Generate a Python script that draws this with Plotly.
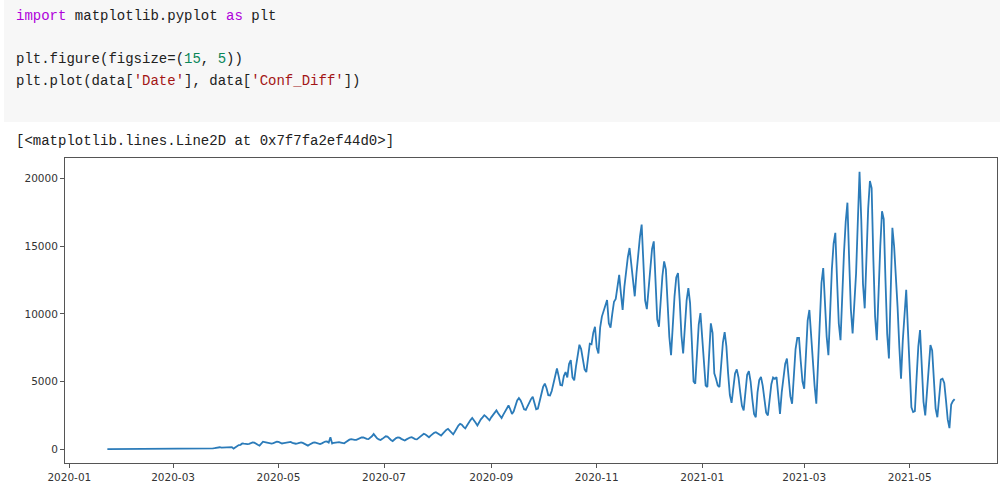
import pandas as pd
import plotly.graph_objects as go

# Daily change in confirmed cases, one list per calendar month
conf_diff_2020_01 = [0, 0, 0, 0, 0, 0, 0, 0, 0]
conf_diff_2020_02 = [0] * 29
conf_diff_2020_03 = [0, 0, 1, 0, 0, 0, 0, 0, 0, 0, 0, 0, 2, 0, 0,
                     4, 7, 2, 12, 15, 12, 11, 40, 55, 70, 95, 110, 140, 110, 120, 135]
conf_diff_2020_04 = [150, 170, 160, 150, 40, 150, 260, 300, 320, 420, 400, 360,
                     370, 390, 440, 500, 480, 430, 330, 260, 400, 550, 520, 480,
                     450, 420, 410, 450, 500, 550]
conf_diff_2020_05 = [530, 480, 420, 440, 470, 520, 550, 530, 470, 420, 400, 420,
                     480, 500, 460, 400, 330, 260, 340, 430, 480, 500, 450, 400,
                     370, 430, 500, 560, 570, 480, 870]
conf_diff_2020_06 = [420, 470, 500, 520, 520, 490, 450, 430, 520, 640, 700, 740,
                     700, 680, 690, 760, 850, 870, 860, 800, 760, 740, 820, 950,
                     1115, 950, 800, 720, 670, 760]
conf_diff_2020_07 = [880, 950, 920, 780, 680, 600, 720, 820, 870, 850, 760, 700,
                     640, 720, 800, 860, 880, 800, 740, 720, 820, 950, 1050, 1130,
                     1080, 960, 880, 1000, 1130, 1200, 1250]
conf_diff_2020_08 = [1180, 1060, 1000, 1150, 1300, 1420, 1500, 1350, 1180, 1090,
                     1300, 1550, 1750, 1870, 1800, 1650, 1530, 1750, 2000, 2150,
                     2300, 2150, 1950, 1750, 2000, 2200, 2350, 2510, 2400, 2250, 2130]
conf_diff_2020_09 = [2350, 2550, 2700, 2860, 2650, 2450, 2300, 2550, 2800, 3050,
                     3230, 2950, 2600, 2800, 3200, 3600, 3780, 3600, 3300, 2950,
                     2900, 3200, 3500, 3700, 3880, 3300, 2950, 3000, 3500, 4000]
conf_diff_2020_10 = [4600, 4840, 4500, 3990, 3970, 4300, 4800, 5400, 5960, 5400,
                     4750, 4720, 5400, 5700, 5300, 6300, 6575, 5300, 5090, 6100,
                     7000, 7720, 7400, 6600, 5900, 5700, 7000, 7800, 7750, 8600, 9050]
conf_diff_2020_11 = [7500, 7070, 9000, 9800, 10200, 10600, 11030, 9300, 8990, 10000,
                     10900, 11100, 12000, 12890, 11500, 10300, 12000, 13200, 14200,
                     14870, 13500, 12300, 11300, 13000, 14500, 15700, 16600, 14000,
                     11000, 10350]
conf_diff_2020_12 = [12000, 13700, 14800, 15360, 12500, 9600, 9050, 11000, 12800,
                     13880, 13300, 10800, 8300, 6950, 9300, 11300, 12700, 13020,
                     11000, 8400, 7070, 9300, 11000, 11900, 10800, 8000, 5000, 4840,
                     7400, 9200, 10060]
conf_diff_2021_01 = [8300, 6200, 4700, 4600, 7000, 9300, 8600, 5600, 5200, 4700,
                     4600, 6300, 7900, 8650, 7600, 5600, 4000, 3420, 4800, 5600,
                     5900, 5300, 4200, 3200, 2860, 4500, 5500, 5760, 5000, 3700, 2600]
conf_diff_2021_02 = [2360, 4200, 5100, 5330, 4700, 3500, 2700, 2490, 3900, 4800,
                     5300, 5200, 5330, 3800, 2610, 4200, 5500, 6300, 6700, 5200,
                     3900, 3360, 5600, 7400, 8230, 8230, 6500, 5000]
conf_diff_2021_03 = [4470, 7400, 9500, 10290, 8200, 6200, 4700, 3360, 6500, 9800,
                     12300, 13390, 11000, 8300, 6950, 10500, 13300, 15200, 15990,
                     12500, 9300, 8060, 11500, 14500, 16800, 18220, 14000, 10300,
                     8560, 11180, 13000]
conf_diff_2021_04 = [16800, 20500, 17000, 12200, 10410, 14500, 17800, 19820, 19300,
                     14000, 9800, 8060, 12000, 15000, 17590, 17000, 12500, 8500,
                     6700, 11000, 16360, 15000, 12900, 10500, 7600, 5210, 8000,
                     10300, 11780, 8800]
conf_diff_2021_05 = [5600, 3100, 2740, 2800, 5300, 7600, 8800, 6000, 3500, 2490,
                     4500, 6500, 7690, 7300, 4800, 3000, 2360, 4000, 5150, 5210,
                     4900, 3600, 2200, 1550, 3300, 3550, 3700]

first_date = "2020-01-23"

conf_diff = (conf_diff_2020_01 + conf_diff_2020_02 + conf_diff_2020_03
             + conf_diff_2020_04 + conf_diff_2020_05 + conf_diff_2020_06
             + conf_diff_2020_07 + conf_diff_2020_08 + conf_diff_2020_09
             + conf_diff_2020_10 + conf_diff_2020_11 + conf_diff_2020_12
             + conf_diff_2021_01 + conf_diff_2021_02 + conf_diff_2021_03
             + conf_diff_2021_04 + conf_diff_2021_05)
dates = pd.date_range(first_date, periods=len(conf_diff), freq="D")

# axis limits with a 5% margin on each side of the data
x_span = dates[-1] - dates[0]
x_range = [dates[0] - 0.05 * x_span, dates[-1] + 0.05 * x_span]
y_lo, y_hi = min(conf_diff), max(conf_diff)
y_pad = 0.05 * (y_hi - y_lo)
y_range = [y_lo - y_pad, y_hi + y_pad]

W, H = 1000, 484

fig = go.Figure()
fig.add_trace(go.Scatter(
    x=dates, y=conf_diff, mode="lines",
    line=dict(color="#2b7bb9", width=1.8),
    hoverinfo="skip", showlegend=False,
))

axis_common = dict(
    showline=True, linecolor="#555", linewidth=1, mirror=True,
    ticks="outside", ticklen=4, tickwidth=1, tickcolor="#555",
    showgrid=False, zeroline=False, automargin=False,
    tickfont=dict(family="DejaVu Sans", size=10.5, color="#333"),
)

fig.update_layout(
    width=W, height=H, autosize=False,
    margin=dict(l=0, r=0, t=0, b=0, pad=0, autoexpand=False),
    paper_bgcolor="white", plot_bgcolor="white",
    xaxis=dict(
        domain=[65 / W, 997 / W], range=x_range, type="date",
        tick0="2020-01-01", dtick="M2", tickformat="%Y-%m", **axis_common,
    ),
    yaxis=dict(
        domain=[21 / H, 326 / H], range=y_range,
        tickvals=[0, 5000, 10000, 15000, 20000], tickformat="d", **axis_common,
    ),
)

# notebook code cell background
fig.add_shape(type="rect", xref="paper", yref="paper",
              x0=4 / W, x1=1.0, y0=1 - 122 / H, y1=1.0,
              fillcolor="#f7f7f7", line=dict(width=0), layer="below")

KW = "#af00db"
NUM = "#098658"
STR = "#a31515"
code_lines = [
    (16, f'<span style="color:{KW}">import</span> matplotlib.pyplot '
         f'<span style="color:{KW}">as</span> plt'),
    (59, f'plt.figure(figsize=(<span style="color:{NUM}">15</span>, '
         f'<span style="color:{NUM}">5</span>))'),
    (81, f"plt.plot(data[<span style='color:{STR}'>'Date'</span>], "
         f"data[<span style='color:{STR}'>'Conf_Diff'</span>])"),
    (141, "[&lt;matplotlib.lines.Line2D at 0x7f7fa2ef44d0&gt;]"),
]
for y_px, txt in code_lines:
    fig.add_annotation(
        text=txt, xref="paper", yref="paper",
        x=14 / W, y=1 - y_px / H, xanchor="left", yanchor="middle",
        showarrow=False, align="left",
        font=dict(family="Liberation Mono", size=14, color="#212121"),
    )

fig.write_html("out.html")
